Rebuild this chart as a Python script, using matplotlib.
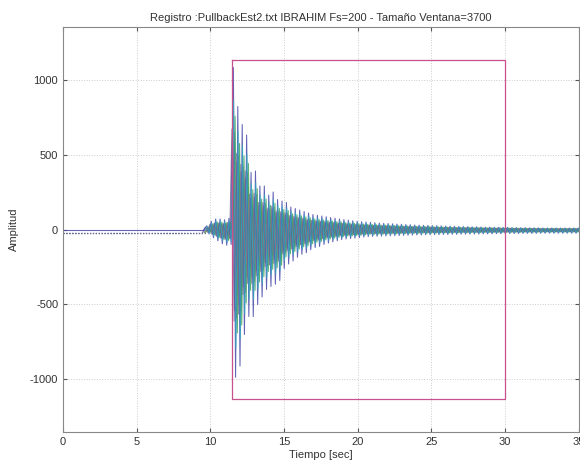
import numpy as np
import matplotlib
matplotlib.use("Agg")
import matplotlib.pyplot as plt

plt.rcParams['font.family'] = ['Liberation Sans', 'DejaVu Sans']
plt.rcParams['axes.unicode_minus'] = False

# ---- data ----
title = "Registro :PullbackEst2.txt IBRAHIM Fs=200 - Tamaño Ventana=3700"
xlabel = "Tiempo [sec]"
ylabel = "Amplitud"
xticks = [0, 5, 10, 15, 20, 25, 30, 35]
yticks = [-1000, -500, 0, 500, 1000]

t_start = 9.76       # first oscillation peak [s]
half_period = 0.15   # spacing between alternating peaks [s]

# upper peaks (every 0.3 s starting at t_start)
upper_peaks = [
    25, 55, 70, 70, 65, 75,
    1080, 820, 700, 630, 380, 390, 290, 290, 230, 250,
    200, 190, 180, 150, 140, 130, 120, 110, 100, 95,
    90, 85, 80, 75, 70, 66, 62, 58, 55, 52,
    50, 48, 45, 43, 41, 40, 38, 36, 35, 33,
    32, 30, 29, 28, 27, 26, 25, 24, 23, 22,
    21, 20, 20, 19, 18, 18, 17, 16, 16, 15,
    15, 14, 14, 13, 13, 12, 12, 11, 11, 11,
    10, 10, 10, 10, 10, 10, 10, 10, 10,
]
# lower peaks (every 0.3 s starting at t_start + 0.15)
lower_peaks = [
    -30, -55, -75, -95, -105, -100,
    -985, -910, -700, -580, -580, -500, -450, -400, -380, -365,
    -340, -260, -230, -210, -185, -165, -155, -135, -120, -113,
    -100, -90, -82, -75, -67, -63, -60, -57, -54, -50,
    -47, -46, -45, -44, -43, -42, -41, -40, -39, -38,
    -37, -36, -36, -35, -35, -34, -34, -33, -33, -32,
    -32, -31, -31, -30, -30, -30, -29, -29, -29, -28,
    -28, -28, -27, -27, -27, -26, -26, -26, -26, -25,
    -25, -25, -25, -25, -25, -25, -25, -25, -25,
]

trace_colors = ['#c8c840', '#c050c0', '#e03040', '#30a050', '#707090', '#4545aa', '#20c0c0']
trace_scales = [0.45, 0.55, 0.6, 0.7, 0.62, 1.0, 0.8]
trace_shifts = [0.10, -0.07, 0.05, 0.12, -0.10, 0.0, 0.02]
trace_bases = [-20, -20, -20, -20, -20, 0, -20]
trace_base_styles = [':', ':', ':', ':', ':', '-', ':']
trace_alphas = [0.8, 0.8, 0.8, 0.8, 0.8, 0.85, 0.65]

rect_x = [11.5, 30, 30, 11.5, 11.5]
rect_y = [1130, 1130, -1130, -1130, 1130]

# ---- figure ----
fig = plt.figure(figsize=(5.8, 4.66), dpi=100)
ax = fig.add_axes([0.1086, 0.073, 0.8894, 0.869])

up = np.array(upper_peaks, dtype=float)
lo = np.array(lower_peaks, dtype=float)
k = np.arange(len(up))

for c, s, sh, b, ls, a in zip(trace_colors, trace_scales, trace_shifts,
                              trace_bases, trace_base_styles, trace_alphas):
    tu = t_start + 2 * half_period * k + sh
    tl = tu + half_period
    tt = np.empty(2 * len(k))
    vv = np.empty(2 * len(k))
    tt[0::2] = tu
    tt[1::2] = tl
    vv[0::2] = s * up
    vv[1::2] = s * lo
    base_color = '#6a6a9a' if ls == ':' else c
    ax.plot([0, tt[0] - 0.2], [b, b], color=base_color, lw=0.8, ls=ls, alpha=0.8)
    ax.plot(np.concatenate([[tt[0] - 0.2], tt]), np.concatenate([[b], vv]),
            color=c, lw=0.75, alpha=a)

ax.plot(rect_x, rect_y, color='#c8508c', lw=0.9)

ax.set_xlim(0, 35)
ax.set_ylim(-1350, 1350)
ax.set_xticks(xticks)
ax.set_yticks(yticks)
ax.tick_params(direction='in', top=True, right=True, labelsize=8, length=3,
               colors='#555555', labelcolor='#333333')
ax.grid(True, ls=':', color='#cccccc', lw=0.7)
for sp in ax.spines.values():
    sp.set_color('#888888')
    sp.set_linewidth(0.8)
ax.set_title(title, fontsize=8, color='#333333', pad=4)
ax.set_xlabel(xlabel, fontsize=8, color='#333333', labelpad=2)
ax.set_ylabel(ylabel, fontsize=8, color='#333333', labelpad=8)

fig.savefig('out.png', dpi=100)
